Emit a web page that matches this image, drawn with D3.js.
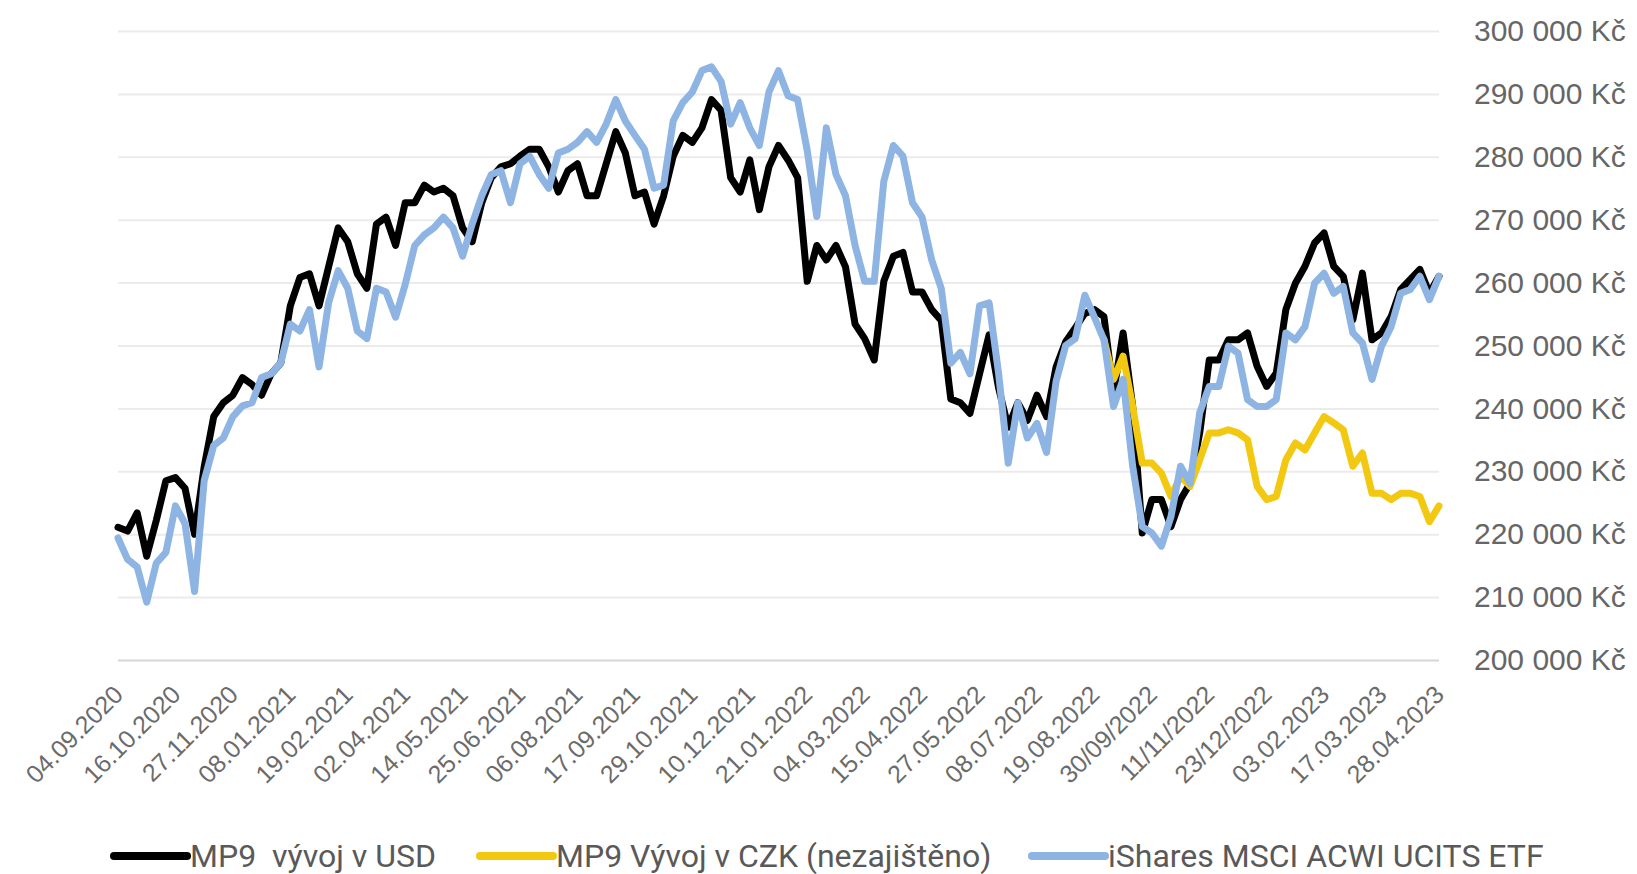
<!DOCTYPE html>
<html>
<head>
<meta charset="utf-8" />
<title>MP9 vs iShares MSCI ACWI</title>
<script src="https://cdn.jsdelivr.net/npm/d3@7"></script>
<style>
  html, body { margin: 0; padding: 0; background: #fff; }
  svg { display: block; font-family: Roboto, "Noto Sans", sans-serif; }
</style>
</head>
<body>
<div id="chart"></div>
<script>
// weekly points, first week 04.09.2020, last week 28.04.2023 (values in thousands Kč)
var firstWeek = "2020-09-04";

var usdSeries = [
  221.1,220.5,223.4,216.5,222.2,228.5,229.0,227.3,220.0,230.7,238.7,240.9,242.1,244.9,243.8,242.1,245.5,247.2,256.3,260.8,
  261.4,256.3,262.5,268.7,266.5,261.4,259.1,269.3,270.4,265.9,272.7,272.7,275.5,274.4,275.0,
  273.8,268.7,266.5,272.7,276.7,278.4,278.9,280.1,281.2,281.2,278.4,274.4,277.8,278.9,273.8,273.8,278.9,284.0,280.6,273.8,
  274.4,269.3,273.8,280.1,283.4,282.3,284.6,289.1,287.4,276.7,274.4,279.5,271.6,278.4,281.8,
  279.5,276.7,260.2,265.9,263.6,265.9,262.5,253.4,251.1,247.7,260.2,264.2,264.8,258.5,258.5,255.7,254.0,241.5,240.9,239.2,
  245.5,251.7,243.2,237.0,240.9,238.1,242.1,238.7,246.6,250.6,252.8,255.1,255.7,
  254.6,242.4,252.0,240.3,220.2,225.5,225.5,221.2,225.5,228.1,236.1,247.7,247.7,250.9,250.9,252.0,246.7,243.5,245.6,255.7,
  259.9,262.6,266.3,267.9,262.6,261.0,254.1,261.5,250.9,252.0,254.6,258.9,260.5,262.1,258.3,261.0
];

// CZK series only exists from week 103 (end of September 2022)
var czkStartWeek = 103;
var czkSeries = [
  251.0,244.6,248.3,240.3,231.3,231.3,229.7,226.0,229.2,227.6,231.8,236.1,236.1,236.6,236.1,235.0,227.6,225.5,226.0,231.8,
  234.5,233.4,236.1,238.7,237.7,236.6,230.8,232.9,226.5,226.5,225.5,226.5,226.5,226.0,222.0,224.5
];

var etfSeries = [
  219.4,216.0,214.8,209.2,215.4,217.1,224.5,221.7,210.9,228.5,234.1,235.3,238.7,240.4,240.9,244.9,245.5,247.2,253.4,252.3,
  255.7,246.6,256.8,261.9,259.1,252.3,251.1,259.1,258.5,254.5,259.7,265.9,267.6,268.7,270.4,
  268.7,264.2,269.3,273.8,277.2,277.8,272.7,278.9,280.1,277.2,275.0,280.6,281.2,282.3,284.0,282.3,285.2,289.1,285.7,283.4,
  281.2,275.0,275.5,285.7,288.6,290.3,293.7,294.3,292.0,285.2,288.6,284.6,281.8,290.3,293.7,
  289.7,289.1,281.0,270.5,284.6,277.2,273.8,265.9,260.2,260.2,276.1,281.8,280.1,272.7,270.4,263.6,259.1,247.2,248.9,245.5,
  256.3,256.8,245.5,231.3,240.9,235.3,237.6,233.0,244.3,250.0,251.1,258.0,254.5,
  250.9,240.3,244.6,230.8,221.2,220.2,218.1,222.8,230.8,228.1,239.3,243.5,243.5,249.9,248.8,241.4,240.3,240.3,241.4,252.0,
  250.9,253.0,259.9,261.5,258.3,259.4,252.0,250.4,244.6,249.9,253.0,258.3,258.9,261.0,257.3,261.0
];

var seriesNames = ["MP9  vývoj v USD", "MP9 Vývoj v CZK (nezajištěno)", "iShares MSCI ACWI UCITS ETF"];
var seriesColors = ["#000000", "#f2c811", "#8db4e2"];

var xTickLabels = ["04.09.2020","16.10.2020","27.11.2020","08.01.2021","19.02.2021","02.04.2021","14.05.2021",
  "25.06.2021","06.08.2021","17.09.2021","29.10.2021","10.12.2021","21.01.2022","04.03.2022","15.04.2022",
  "27.05.2022","08.07.2022","19.08.2022","30/09/2022","11/11/2022","23/12/2022","03.02.2023","17.03.2023","28.04.2023"];

var yTickValues = [200, 210, 220, 230, 240, 250, 260, 270, 280, 290, 300];
var yTickLabels = ["200 000 Kč","210 000 Kč","220 000 Kč","230 000 Kč","240 000 Kč","250 000 Kč",
  "260 000 Kč","270 000 Kč","280 000 Kč","290 000 Kč","300 000 Kč"];

var width = 1637, height = 874;
var plotLeft = 118, plotRight = 1439, plotTop = 31, plotBottom = 660;
var legendX = [114, 480, 1032];

var start = d3.timeParse("%Y-%m-%d")(firstWeek);
function weekDate(i) { return d3.timeDay.offset(start, i * 7); }
function parseLabel(s) {
  var p = s.split(/[.\/]/);
  return new Date(+p[2], +p[1] - 1, +p[0]);
}

var x = d3.scaleTime()
  .domain([start, parseLabel(xTickLabels[xTickLabels.length - 1])])
  .range([plotLeft, plotRight]);
var y = d3.scaleLinear().domain([200, 300]).range([plotBottom, plotTop]);

var svg = d3.select("#chart").append("svg")
  .attr("width", width)
  .attr("height", height);

// gridlines + right labels
var yAxis = svg.append("g")
  .attr("transform", "translate(" + plotRight + ",0)")
  .call(d3.axisRight(y)
    .tickValues(yTickValues)
    .tickSize(-(plotRight - plotLeft))
    .tickPadding(35)
    .tickFormat(function (d, i) { return yTickLabels[i]; }));
yAxis.select(".domain").remove();
yAxis.selectAll(".tick line")
  .attr("stroke", function (d) { return d === 200 ? "#d6d6d6" : "#ebebeb"; })
  .attr("stroke-width", 2);
yAxis.selectAll(".tick text")
  .attr("fill", "#666")
  .style("font-size", "30px");

// bottom date labels
var xAxis = svg.append("g")
  .attr("transform", "translate(0," + plotBottom + ")")
  .call(d3.axisBottom(x)
    .tickValues(xTickLabels.map(parseLabel))
    .tickSize(0)
    .tickFormat(function (d, i) { return xTickLabels[i]; }));
xAxis.select(".domain").remove();
xAxis.selectAll(".tick text")
  .attr("x", 0)
  .attr("y", 0)
  .attr("dy", "0.35em")
  .attr("transform", "translate(0,30) rotate(-45)")
  .style("text-anchor", "end")
  .attr("fill", "#6b6b6b")
  .style("font-size", "25px");

// lines
var line = d3.line()
  .x(function (d) { return x(d.date); })
  .y(function (d) { return y(d.v); });

var allSeries = [
  usdSeries.map(function (v, i) { return { date: weekDate(i), v: v }; }),
  czkSeries.map(function (v, i) { return { date: weekDate(czkStartWeek + i), v: v }; }),
  etfSeries.map(function (v, i) { return { date: weekDate(i), v: v }; })
];

svg.append("g").selectAll("path")
  .data(allSeries)
  .enter().append("path")
  .attr("d", line)
  .attr("fill", "none")
  .attr("stroke", function (d, i) { return seriesColors[i]; })
  .attr("stroke-width", 7)
  .attr("stroke-linejoin", "round")
  .attr("stroke-linecap", "round");

// legend
var legend = svg.append("g").attr("transform", "translate(0,856)");
seriesNames.forEach(function (name, i) {
  var lx = legendX[i];
  legend.append("line")
    .attr("x1", lx).attr("x2", lx + 73)
    .attr("y1", 0).attr("y2", 0)
    .attr("stroke", seriesColors[i])
    .attr("stroke-width", 8)
    .attr("stroke-linecap", "round");
  legend.append("text")
    .attr("x", lx + 76)
    .attr("y", 0)
    .attr("dy", "0.35em")
    .attr("fill", "#595959")
    .style("font-size", "32px")
    .style("white-space", "pre")
    .text(name);
});
</script>
</body>
</html>
